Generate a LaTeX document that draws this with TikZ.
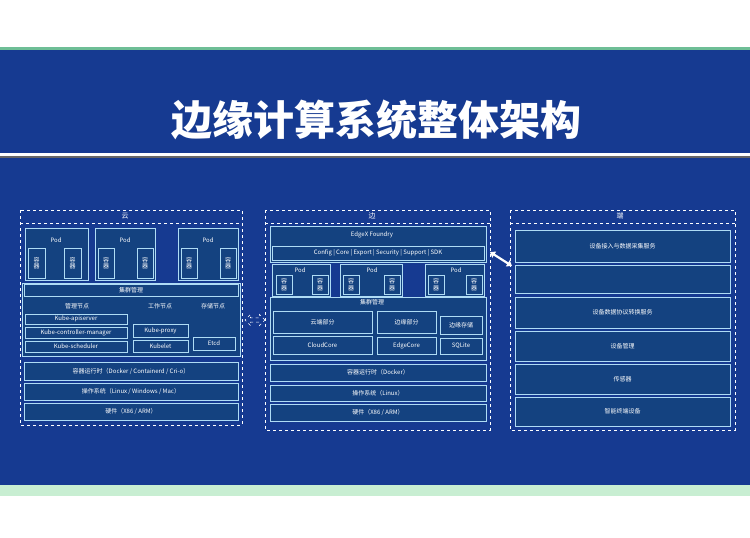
\documentclass[tikz,border=0pt]{standalone}
\usepackage{fontspec}
\setmainfont{Noto Sans CJK SC}
\usetikzlibrary{arrows.meta,shapes.arrows}
\definecolor{bg}{RGB}{22,58,145}
\definecolor{boxf}{RGB}{20,66,128}
\definecolor{edgec}{RGB}{175,220,245}
\definecolor{topline}{RGB}{110,190,150}
\definecolor{botband}{RGB}{200,238,210}
\newcommand\bxn[6]{\node[bx, minimum width={#4-#2}, minimum height={#5-#3}] (#1) at ({(#2+#4)/2},{(#3+#5)/2}) {#6};}
\newcommand\lbl[4]{\node[tx] (#1) at (#2,#3) {#4};}
\begin{document}
\begin{tikzpicture}[x=1pt,y=-1pt,
  bx/.style={draw=edgec, line width=0.6pt, fill=boxf, inner sep=0pt, text=white, font=\fontsize{6}{6.5}\selectfont, align=center},
  tx/.style={text=white, font=\fontsize{6}{6.5}\selectfont, inner sep=0pt},
  panel/.style={draw=white, dashed, line width=0.6pt},
  hd/.style={text=white, font=\fontsize{7}{8}\selectfont, inner sep=0pt},
]
\useasboundingbox (0,0) rectangle (750,538);
\fill[white] (0,0) rectangle (750,538);
\fill[bg] (0,50) rectangle (750,485);
\fill[topline] (0,47) rectangle (750,50);
\fill[botband] (0,485) rectangle (750,496);
% title
\node[text=white, font=\fontsize{41}{45}\selectfont\bfseries] (title) at (376,120) {边缘计算系统整体架构};
\fill[black!60] (0,156) rectangle (750,158);
\fill[white] (0,153) rectangle (750,156);

% ================= LEFT PANEL (cloud)
\draw[panel] (20,210) rectangle (242,425);
\draw[panel] (20,223) -- (242,223);
\node[hd] (hcloud) at (125,216) {云};
% pods
\bxn{lp1}{25}{228}{88}{280}{}
\lbl{lp1t}{56}{240}{Pod}
\bxn{lp1a}{28}{248}{45}{278}{容\\器}
\bxn{lp1b}{64}{248}{81}{278}{容\\器}
\bxn{lp2}{95}{228}{155}{280}{}
\lbl{lp2t}{125}{240}{Pod}
\bxn{lp2a}{98}{248}{114}{278}{容\\器}
\bxn{lp2b}{137}{248}{153}{278}{容\\器}
\bxn{lp3}{178}{228}{238}{280}{}
\lbl{lp3t}{208}{240}{Pod}
\bxn{lp3a}{181}{248}{197}{278}{容\\器}
\bxn{lp3b}{220}{248}{236}{278}{容\\器}
% cluster
\bxn{lcl}{22}{283}{240}{356}{}
\bxn{lclh}{24}{284}{238}{296}{集群管理}
\lbl{lm}{77}{306}{管理节点}
\lbl{lw}{160}{306}{工作节点}
\lbl{ls}{213}{306}{存储节点}
\bxn{lapi}{25}{314}{127}{324}{Kube-apiserver}
\bxn{lcm}{25}{327}{127}{338}{Kube-controller-manager}
\bxn{lsch}{25}{341}{127}{352}{Kube-scheduler}
\bxn{lprx}{133}{324}{188}{337}{Kube-proxy}
\bxn{lklt}{133}{340}{188}{352}{Kubelet}
\bxn{letc}{193}{337}{235}{350}{Etcd}
% base layers
\bxn{lrt}{24}{362}{238}{380}{容器运行时（Docker / Containerd / Cri-o）}
\bxn{los}{24}{383}{238}{400}{操作系统（Linux / Windows / Mac）}
\bxn{lhw}{24}{403}{238}{420}{硬件（X86 / ARM）}

% ================= MIDDLE PANEL (edge)
\draw[panel] (265,210) rectangle (490,430);
\draw[panel] (265,223) -- (490,223);
\node[hd] (hedge) at (372,216) {边};
\bxn{mex}{270}{226}{486}{262}{}
\lbl{mext}{372}{235}{EdgeX Foundry}
\bxn{mexs}{272}{246}{484}{260}{Config \textbar{} Core \textbar{} Export \textbar{} Security \textbar{} Support \textbar{} SDK}
% pods
\bxn{mp1}{272}{264}{330}{296}{}
\lbl{mp1t}{300}{270}{Pod}
\bxn{mp1a}{276}{275}{292}{294}{容\\器}
\bxn{mp1b}{312}{275}{328}{294}{容\\器}
\bxn{mp2}{340}{264}{402}{296}{}
\lbl{mp2t}{372}{270}{Pod}
\bxn{mp2a}{343}{275}{359}{294}{容\\器}
\bxn{mp2b}{384}{275}{400}{294}{容\\器}
\bxn{mp3}{425}{264}{484}{296}{}
\lbl{mp3t}{456}{270}{Pod}
\bxn{mp3a}{428}{275}{444}{294}{容\\器}
\bxn{mp3b}{466}{275}{482}{294}{容\\器}
% cluster
\bxn{mcl}{270}{297}{486}{360}{}
\lbl{mclh}{372}{302}{集群管理}
\bxn{mcp}{273}{311}{372}{333}{云端部分}
\bxn{mcc}{273}{336}{372}{354}{CloudCore}
\bxn{mep}{377}{311}{436}{333}{边缘部分}
\bxn{mec}{377}{337}{436}{354}{EdgeCore}
\bxn{mst}{440}{316}{482}{334}{边缘存储}
\bxn{msq}{440}{338}{482}{354}{SQLite}
% base layers
\bxn{mrt}{270}{364}{486}{381}{容器运行时（Docker）}
\bxn{mos}{270}{385}{486}{401}{操作系统（Linux）}
\bxn{mhw}{270}{404}{486}{421}{硬件（X86 / ARM）}

% ================= RIGHT PANEL (device)
\draw[panel] (510,210) rectangle (735,430);
\draw[panel] (510,223) -- (735,223);
\node[hd] (hdev) at (620,216) {端};
\bxn{r1}{515}{230}{730}{262}{设备接入与数据采集服务}
\bxn{r2}{515}{265}{730}{293}{}
\bxn{r3}{515}{297}{730}{328}{设备数据协议转换服务}
\bxn{r4}{515}{331}{730}{361}{设备管理}
\bxn{r5}{515}{364}{730}{394}{传感器}
\bxn{r6}{515}{397}{730}{426}{智能终端设备}

% arrows
\node[double arrow, draw=white, dashed, line width=0.6pt, minimum height=20pt, minimum width=11pt, double arrow head extend=2pt, inner sep=1pt] (lmarrow) at (255,320) {};
\coordinate (ra) at (490,252);
\coordinate (rb) at (512,266);
\draw[white, line width=2.2pt, {Triangle[length=5pt,width=7pt]}-{Triangle[length=5pt,width=7pt]}] (ra) -- (rb);
\end{tikzpicture}
\end{document}
